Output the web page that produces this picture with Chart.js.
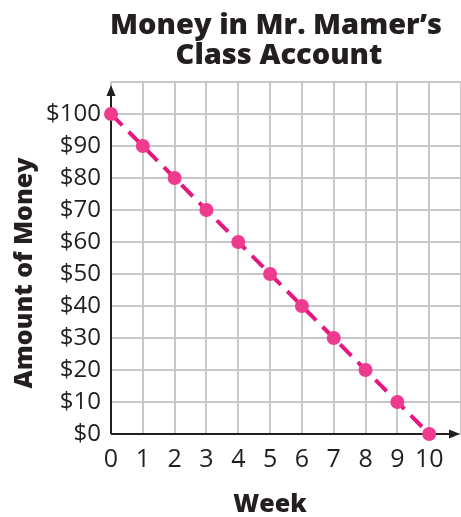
<!DOCTYPE html>
<html>
<head>
<meta charset="utf-8">
<script src="https://cdn.jsdelivr.net/npm/chart.js@4/dist/chart.umd.min.js"></script>
<style>
  html, body { margin: 0; padding: 0; background: #fff; }
  #wrap { width: 461px; height: 517px; }
</style>
</head>
<body>
<div id="wrap"><canvas id="myChart"></canvas></div>
<script>
/* Data */
const weeks = [0, 1, 2, 3, 4, 5, 6, 7, 8, 9, 10];
const money = [100, 90, 80, 70, 60, 50, 40, 30, 20, 10, 0];
const yTickLabels = ['$0', '$10', '$20', '$30', '$40', '$50', '$60', '$70', '$80', '$90', '$100'];
const titleLines = ['Money in Mr. Mamer\u2019s', 'Class Account'];
const xTitle = 'Week';
const yTitle = 'Amount of Money';

const ink = '#231f20';
const pink = '#e8167f';
const font = '"Open Sans", "Noto Sans", sans-serif';

// axes with arrowheads, drawn under the points
const axesPlugin = {
  id: 'axes',
  beforeDatasetsDraw(chart) {
    const c = chart.ctx, x = chart.scales.x, y = chart.scales.y;
    const x0 = x.getPixelForValue(0), y0 = y.getPixelForValue(0);
    const tipX = 460, tipY = 85;
    c.save();
    c.strokeStyle = ink;
    c.fillStyle = ink;
    c.lineWidth = 2;
    c.beginPath();
    c.moveTo(x0, y0);
    c.lineTo(tipX - 6, y0);
    c.moveTo(x0, y0);
    c.lineTo(x0, tipY + 6);
    c.stroke();
    c.beginPath();
    c.moveTo(tipX, y0);
    c.lineTo(tipX - 11, y0 - 4.5);
    c.lineTo(tipX - 11, y0 + 4.5);
    c.closePath();
    c.fill();
    c.beginPath();
    c.moveTo(x0, tipY);
    c.lineTo(x0 - 4.5, tipY + 11);
    c.lineTo(x0 + 4.5, tipY + 11);
    c.closePath();
    c.fill();
    c.restore();
  }
};

// chart title and axis titles
const titlesPlugin = {
  id: 'titles',
  afterDraw(chart) {
    const c = chart.ctx;
    c.save();
    c.fillStyle = ink;
    c.textAlign = 'center';
    c.textBaseline = 'alphabetic';
    c.font = '800 29px ' + font;
    c.fillText(titleLines[0], 276, 34);
    c.fillText(titleLines[1], 279, 64);
    c.font = '800 25px ' + font;
    c.fillText(xTitle, 270, 512);
    c.translate(32, 273);
    c.rotate(-Math.PI / 2);
    c.fillText(yTitle, 0, 0);
    c.restore();
  }
};

new Chart(document.getElementById('myChart'), {
  type: 'scatter',
  data: {
    datasets: [{
      data: weeks.map((w, i) => ({x: w, y: money[i]})),
      showLine: true,
      borderColor: pink,
      borderWidth: 4,
      borderDash: [16, 9],
      pointRadius: 7,
      pointBackgroundColor: '#ee3b8d',
      pointBorderColor: '#ee3b8d',
      pointBorderWidth: 0,
      clip: false
    }]
  },
  plugins: [axesPlugin, titlesPlugin],
  options: {
    responsive: true,
    maintainAspectRatio: false,
    animation: false,
    events: [],
    layout: { autoPadding: false, padding: { top: 82, left: 0, right: 0, bottom: 0 } },
    plugins: { legend: { display: false }, title: { display: false }, tooltip: { enabled: false } },
    scales: {
      x: {
        type: 'linear',
        min: 0,
        max: 11,
        afterFit: s => { s.height = 83; s.paddingLeft = 0; s.paddingRight = 0; },
        border: { display: false },
        grid: { color: '#c7c7c9', lineWidth: 2, drawTicks: false },
        ticks: {
          stepSize: 1,
          autoSkip: false,
          padding: 11,
          color: ink,
          font: { family: font, size: 25 },
          maxRotation: 0,
          callback: v => (v <= 10 ? String(v) : '')
        }
      },
      y: {
        type: 'linear',
        min: 0,
        max: 110,
        afterFit: s => { s.width = 111; s.paddingTop = 0; s.paddingBottom = 0; },
        border: { display: false },
        grid: { color: '#c7c7c9', lineWidth: 2, drawTicks: false },
        ticks: {
          stepSize: 10,
          autoSkip: false,
          padding: 10,
          color: ink,
          font: { family: font, size: 24 },
          callback: v => (v <= 100 ? yTickLabels[v / 10] : '')
        }
      }
    }
  }
});
</script>
</body>
</html>
